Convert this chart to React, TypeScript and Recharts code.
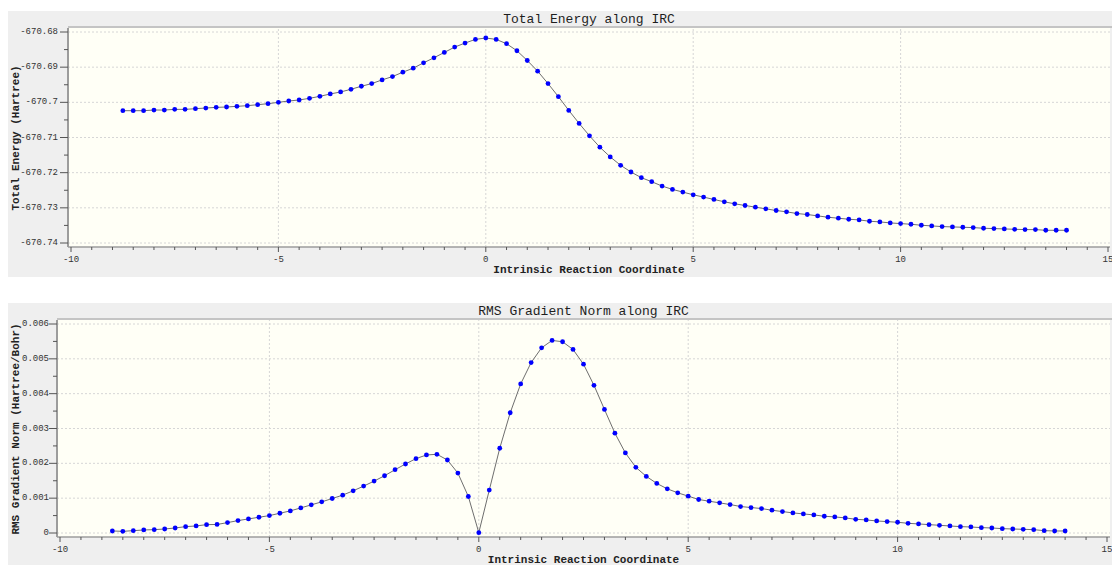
import React from "react";
import { LineChart, Line, XAxis, YAxis, CartesianGrid, ReferenceLine } from "recharts";

// IRC points (reverse side -> TS at 0 -> forward side)
const ircCoord = [
  -8.75, -8.5, -8.25, -8, -7.75, -7.5, -7.25, -7, -6.75, -6.5, -6.25, -6,
  -5.75, -5.5, -5.25, -5, -4.75, -4.5, -4.25, -4, -3.75, -3.5, -3.25, -3,
  -2.75, -2.5, -2.25, -2, -1.75, -1.5, -1.25, -1, -0.75, -0.5, -0.25, 0,
  0.25, 0.5, 0.75, 1, 1.25, 1.5, 1.75, 2, 2.25, 2.5, 2.75, 3,
  3.25, 3.5, 3.75, 4, 4.25, 4.5, 4.75, 5, 5.25, 5.5, 5.75, 6,
  6.25, 6.5, 6.75, 7, 7.25, 7.5, 7.75, 8, 8.25, 8.5, 8.75, 9,
  9.25, 9.5, 9.75, 10, 10.25, 10.5, 10.75, 11, 11.25, 11.5, 11.75, 12,
  12.25, 12.5, 12.75, 13, 13.25, 13.5, 13.75, 14,
];

const totalEnergy = [
  -670.70238, -670.70238, -670.70238, -670.70219, -670.70219, -670.702, -670.702, -670.70181,
  -670.70162, -670.70143, -670.70133, -670.70114, -670.70095, -670.70067, -670.70038, -670.7,
  -670.69962, -670.69933, -670.69886, -670.69829, -670.69762, -670.69705, -670.69629, -670.69543,
  -670.69467, -670.69362, -670.69267, -670.69143, -670.69029, -670.68876, -670.68733, -670.68581,
  -670.68429, -670.68314, -670.6821, -670.68171,
  -670.6821, -670.68333, -670.68533, -670.6881, -670.69114, -670.69467, -670.69838, -670.70229,
  -670.706, -670.70952, -670.71276, -670.71552, -670.7179, -670.71981, -670.72143, -670.72257,
  -670.72381, -670.72476, -670.72552, -670.72629, -670.72695, -670.72762, -670.72829, -670.72886,
  -670.72933, -670.72981, -670.73029, -670.73076, -670.73114, -670.73162, -670.7319, -670.73229,
  -670.73267, -670.73295, -670.73324, -670.73343, -670.73381, -670.734, -670.73429, -670.73448,
  -670.73467, -670.73495, -670.73514, -670.73533, -670.73543, -670.73552, -670.73562, -670.73581,
  -670.7359, -670.736, -670.7361, -670.73619, -670.73619, -670.73638, -670.73638, -670.73638,
];

const rmsGradient = [
  0.000058, 0.000048, 0.000067, 0.000087, 0.000096, 0.000115, 0.000144, 0.000183,
  0.000202, 0.00024, 0.000245, 0.000298, 0.000356, 0.000404, 0.000452, 0.0005,
  0.000567, 0.000635, 0.000721, 0.000808, 0.000894, 0.00099, 0.001087, 0.001212,
  0.001346, 0.00149, 0.001644, 0.001817, 0.001981, 0.002135, 0.00224, 0.00226,
  0.002096, 0.001721, 0.001048, 0.00001,
  0.001231, 0.002433, 0.003452, 0.004279, 0.004894, 0.005317, 0.005529, 0.00549,
  0.005269, 0.004846, 0.00424, 0.003548, 0.002865, 0.002298, 0.001885, 0.001625,
  0.001423, 0.001269, 0.001154, 0.001058, 0.000962, 0.000913, 0.000865, 0.000817,
  0.00076, 0.000731, 0.000702, 0.000654, 0.000615, 0.000577, 0.000548, 0.000519,
  0.000481, 0.000462, 0.000433, 0.000394, 0.000375, 0.000346, 0.000327, 0.000308,
  0.000279, 0.00026, 0.00024, 0.000221, 0.000202, 0.000183, 0.000173, 0.000154,
  0.000144, 0.000125, 0.000115, 0.000106, 0.000096, 0.000067, 0.000058, 0.000058,
];

const xMajorTicks = [-10, -5, 0, 5, 10, 15];
const xGridValues = [-5, 0, 5, 10];
const energyMajorTicks = [-670.74, -670.73, -670.72, -670.71, -670.7, -670.69, -670.68];
const gradientMajorTicks = [0, 0.001, 0.002, 0.003, 0.004, 0.005, 0.006];

// majors plus evenly spaced minor ticks between them
const withMinor = (majors: number[], parts: number) => {
  const out: number[] = [];
  majors.forEach((m, i) => {
    if (i > 0) {
      const prev = majors[i - 1];
      for (let k = 1; k < parts; k++) out.push(prev + ((m - prev) * k) / parts);
    }
    out.push(m);
  });
  return out;
};

const energyData = ircCoord.map((x, i) => ({ x, y: totalEnergy[i] }));
const gradientData = ircCoord.map((x, i) => ({ x, y: rmsGradient[i] }));

const FONT = "'Liberation Mono', 'DejaVu Sans Mono', monospace";
const PANEL_BG = "#efefef";
const PLOT_BG = "#fffff6";
const GRID = "#d6d6d6";
const AXIS = "#9c9c9c";

const isMajor = (v: number, majors: number[]) => majors.some((m) => Math.abs(m - v) < 1e-9);

const XTick = (props: any) => {
  const { x, y, payload } = props;
  const v = payload.value;
  const major = isMajor(v, xMajorTicks);
  return (
    <g>
      <line x1={x} x2={x} y1={y} y2={y + (major ? 5 : 3)} stroke="#555" strokeWidth={1} />
      {major && (
        <text x={x} y={y + 13} textAnchor="middle" dominantBaseline="central" fontFamily={FONT} fontSize={9} fill="#333">
          {Math.round(v)}
        </text>
      )}
    </g>
  );
};

const makeYTick = (majors: number[], digits: number, gap: number) => (props: any) => {
  const { x, y, payload } = props;
  const v = payload.value;
  const major = isMajor(v, majors);
  return (
    <g>
      <line x1={x - (major ? 8 : 4)} x2={x} y1={y} y2={y} stroke="#555" strokeWidth={1} />
      {major && (
        <text x={x - gap} y={y} textAnchor="end" dominantBaseline="central" fontFamily={FONT} fontSize={9} fill="#333">
          {String(Number(v.toFixed(digits)))}
        </text>
      )}
    </g>
  );
};

const EnergyTick = makeYTick(energyMajorTicks, 2, 10);
const GradientTick = makeYTick(gradientMajorTicks, 3, 8);

type PanelProps = {
  top: number;
  height: number;
  plotLeft: number;
  plotTop: number;
  plotBottom: number;
  title: string;
  yLabel: string;
};

function Panel({ top, height, plotLeft, plotTop, plotBottom, title, yLabel }: PanelProps) {
  const plotRight = 1110;
  return (
    <>
      <div style={{ position: "absolute", left: 8, top, width: 1104, height, background: PANEL_BG }} />
      <div
        style={{
          position: "absolute", left: plotLeft, top, width: plotRight - plotLeft, height: plotTop - top,
          textAlign: "center", lineHeight: `${plotTop - top}px`, fontFamily: FONT, fontSize: 13, color: "#1e1e1e",
        }}
      >
        {title}
      </div>
      <div style={{ position: "absolute", left: plotLeft, top: plotTop - 2, width: plotRight - plotLeft + 2, height: 2, background: "#c4c4c4" }} />
      <div
        style={{
          position: "absolute", left: 16, top: (plotTop + plotBottom) / 2, transform: "translate(-50%, -50%) rotate(-90deg)",
          whiteSpace: "nowrap", fontFamily: FONT, fontSize: 11, fontWeight: "bold", color: "#222",
        }}
      >
        {yLabel}
      </div>
      <div
        style={{
          position: "absolute", left: plotLeft, top: plotBottom + 17, width: plotRight - plotLeft, textAlign: "center",
          fontFamily: FONT, fontSize: 11, fontWeight: "bold", color: "#222", lineHeight: "13px",
        }}
      >
        Intrinsic Reaction Coordinate
      </div>
    </>
  );
}

export default function App() {
  const xTicks = withMinor(xMajorTicks, 10);
  return (
    <div style={{ position: "absolute", left: 0, top: 0, width: 1112, height: 565, background: "#fff", overflow: "hidden" }}>
      <Panel top={11} height={266} plotLeft={68} plotTop={28} plotBottom={247} title="Total Energy along IRC" yLabel="Total Energy (Hartree)" />
      <Panel top={303} height={262} plotLeft={57} plotTop={320} plotBottom={537} title="RMS Gradient Norm along IRC" yLabel="RMS Gradient Norm (Hartree/Bohr)" />

      <div style={{ position: "absolute", left: 0, top: 0 }}>
        <LineChart width={1112} height={280} data={energyData} margin={{ top: 28, right: 2, bottom: 0, left: 8 }}>
          <CartesianGrid horizontal={false} vertical={false} fill={PLOT_BG} />
          {energyMajorTicks.map((v) => (
            <ReferenceLine key={`ey${v}`} y={v} stroke={GRID} strokeDasharray="2 2" />
          ))}
          {xGridValues.map((v) => (
            <ReferenceLine key={`ex${v}`} x={v} stroke={GRID} strokeDasharray="2 2" />
          ))}
          <XAxis
            dataKey="x" type="number" domain={[-10, 15]} ticks={xTicks} interval={0} height={33}
            padding={{ left: 3, right: 2 }} tickSize={0} tickMargin={0} tickLine={false}
            axisLine={{ stroke: AXIS, strokeWidth: 1.5 }} tick={(p: any) => <XTick {...p} />}
          />
          <YAxis
            type="number" domain={[-670.74, -670.68]} ticks={withMinor(energyMajorTicks, 2)} interval={0} width={60}
            padding={{ top: 4, bottom: 4 }} tickSize={0} tickMargin={0} tickLine={false}
            axisLine={{ stroke: AXIS, strokeWidth: 2 }} tick={(p: any) => <EnergyTick {...p} />}
          />
          <Line
            dataKey="y" type="linear" stroke="#6e6e6e" strokeWidth={1} isAnimationActive={false}
            dot={{ r: 2.4, fill: "#0000ff", stroke: "#0000ff", strokeWidth: 0 }} activeDot={false}
          />
        </LineChart>
      </div>

      <div style={{ position: "absolute", left: 0, top: 290 }}>
        <LineChart width={1112} height={275} data={gradientData} margin={{ top: 30, right: 2, bottom: 0, left: 8 }}>
          <CartesianGrid horizontal={false} vertical={false} fill={PLOT_BG} />
          {gradientMajorTicks.map((v) => (
            <ReferenceLine key={`gy${v}`} y={v} stroke={GRID} strokeDasharray="2 2" />
          ))}
          {xGridValues.map((v) => (
            <ReferenceLine key={`gx${v}`} x={v} stroke={GRID} strokeDasharray="2 2" />
          ))}
          <XAxis
            dataKey="x" type="number" domain={[-10, 15]} ticks={xTicks} interval={0} height={28}
            padding={{ left: 3, right: 3 }} tickSize={0} tickMargin={0} tickLine={false}
            axisLine={{ stroke: AXIS, strokeWidth: 1.5 }} tick={(p: any) => <XTick {...p} />}
          />
          <YAxis
            type="number" domain={[0, 0.006]} ticks={withMinor(gradientMajorTicks, 2)} interval={0} width={49}
            padding={{ top: 4, bottom: 4 }} tickSize={0} tickMargin={0} tickLine={false}
            axisLine={{ stroke: AXIS, strokeWidth: 2 }} tick={(p: any) => <GradientTick {...p} />}
          />
          <Line
            dataKey="y" type="linear" stroke="#6e6e6e" strokeWidth={1} isAnimationActive={false}
            dot={{ r: 2.4, fill: "#0000ff", stroke: "#0000ff", strokeWidth: 0 }} activeDot={false}
          />
        </LineChart>
      </div>
    </div>
  );
}
